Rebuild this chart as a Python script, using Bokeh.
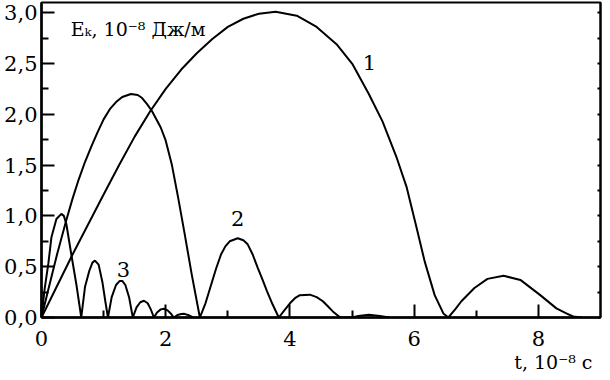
from bokeh.plotting import figure
from bokeh.models import FixedTicker, LinearAxis, Range1d, CustomJSTickFormatter, Label, Title
from bokeh.embed import file_html
from bokeh.resources import INLINE

# Curve 1
t1 = [0, 0.5, 1.0, 1.25, 1.5, 1.75, 2.0, 2.25, 2.5, 2.75, 3.0, 3.25, 3.5, 3.77, 4.11, 4.43,
      4.75, 5.01, 5.27, 5.49, 5.72, 5.88, 6.04, 6.17, 6.33, 6.47, 6.55,
      6.66, 6.76, 6.97, 7.18, 7.44, 7.71, 8.03, 8.29, 8.45, 8.56, 8.7]
e1 = [0, 0.62, 1.21, 1.50, 1.78, 2.03, 2.25, 2.44, 2.60, 2.74, 2.86, 2.94, 2.99, 3.01, 2.97, 2.86,
      2.69, 2.49, 2.20, 1.93, 1.57, 1.28, 0.88, 0.55, 0.22, 0.04, 0.0,
      0.08, 0.16, 0.29, 0.38, 0.41, 0.37, 0.22, 0.09, 0.04, 0.01, 0.0]

# Curve 2
t2 = [0, 0.1, 0.25, 0.4, 0.5, 0.6, 0.7, 0.8, 0.9, 1.0, 1.1, 1.2, 1.3, 1.44, 1.55, 1.62, 1.7,
      1.78, 1.92, 2.0, 2.1, 2.2, 2.3, 2.42, 2.55,
      2.64, 2.73, 2.81, 2.89, 2.96, 3.03, 3.16, 3.25, 3.32, 3.40, 3.48, 3.56, 3.63, 3.72, 3.82,
      3.91, 4.0, 4.08, 4.16, 4.32, 4.43, 4.53, 4.61, 4.69, 4.81,
      5.0, 5.1, 5.27, 5.45, 5.6]
e2 = [0, 0.25, 0.62, 0.96, 1.17, 1.36, 1.53, 1.68, 1.82, 1.95, 2.05, 2.12, 2.17, 2.20, 2.19, 2.16, 2.10,
      2.03, 1.87, 1.74, 1.50, 1.18, 0.84, 0.42, 0.0,
      0.14, 0.32, 0.48, 0.62, 0.70, 0.75, 0.78, 0.76, 0.72, 0.62, 0.49, 0.37, 0.26, 0.13, 0.0,
      0.07, 0.14, 0.19, 0.22, 0.225, 0.20, 0.16, 0.11, 0.06, 0.0,
      0.0, 0.015, 0.028, 0.015, 0.0]

# Curve 3
t3 = [0, 0.05, 0.11, 0.16, 0.24, 0.32, 0.36, 0.40, 0.48, 0.56, 0.64,
      0.70, 0.77, 0.82, 0.86, 0.92, 0.98, 1.03, 1.07,
      1.13, 1.20, 1.26, 1.30, 1.35, 1.41, 1.47,
      1.53, 1.59, 1.65, 1.71, 1.76, 1.81,
      1.86, 1.92, 1.97, 2.03, 2.08, 2.13,
      2.19, 2.25, 2.30, 2.36, 2.44]
e3 = [0, 0.28, 0.53, 0.79, 0.97, 1.02, 1.0, 0.92, 0.62, 0.33, 0.0,
      0.30, 0.46, 0.54, 0.56, 0.52, 0.35, 0.15, 0.0,
      0.2, 0.32, 0.36, 0.36, 0.32, 0.2, 0.0,
      0.1, 0.15, 0.165, 0.14, 0.08, 0.0,
      0.05, 0.08, 0.086, 0.07, 0.04, 0.0,
      0.025, 0.035, 0.036, 0.025, 0.0]

x_ticks = [0, 2, 4, 6, 8]
x_minor = [1, 3, 5, 7]
y_ticks = [0.0, 0.5, 1.0, 1.5, 2.0, 2.5, 3.0]
y_minor = [0.25, 0.75, 1.25, 1.75, 2.25, 2.75]
right_ticks = [0.25 * i for i in range(13)]

curve_labels = ["1", "2", "3"]
label_t = [5.28, 3.16, 1.32]
label_e = [2.51, 0.97, 0.47]

FONT = "DejaVu Serif"

p = figure(width=602, height=372, output_backend="svg", toolbar_location=None,
           x_range=Range1d(0, 9), y_range=Range1d(0, 3.1),
           min_border_left=41, min_border_right=2, min_border_top=2, min_border_bottom=0)
p.grid.visible = False
p.outline_line_color = "black"
p.outline_line_width = 2
p.background_fill_color = "white"
p.border_fill_color = "white"

for ax in (p.xaxis[0], p.yaxis[0]):
    ax.axis_line_width = 2.5
    ax.axis_line_color = "black"
    ax.major_tick_in = 13
    ax.major_tick_out = 0
    ax.minor_tick_in = 7
    ax.minor_tick_out = 0
    ax.major_tick_line_width = 2
    ax.minor_tick_line_width = 2
    ax.major_label_text_font = FONT
    ax.major_label_text_font_size = "21px"
    ax.major_label_text_color = "black"

p.xaxis[0].ticker = FixedTicker(ticks=x_ticks, minor_ticks=x_minor)
p.yaxis[0].ticker = FixedTicker(ticks=y_ticks, minor_ticks=y_minor)
p.yaxis[0].formatter = CustomJSTickFormatter(code="return tick.toFixed(1).replace('.', ',');")
p.yaxis[0].major_label_standoff = 4
p.xaxis[0].major_label_standoff = 13

ra = LinearAxis(ticker=FixedTicker(ticks=right_ticks, minor_ticks=[]))
ra.major_tick_in = 3
ra.major_tick_out = 0
ra.minor_tick_in = 0
ra.minor_tick_out = 0
ra.major_tick_line_width = 2
ra.axis_line_width = 2
ra.major_label_text_font_size = "0px"
ra.major_label_standoff = 0
p.add_layout(ra, "right")

for t, e in ((t1, e1), (t2, e2), (t3, e3)):
    p.line(t, e, line_color="black", line_width=2)

for txt, lt, le in zip(curve_labels, label_t, label_e):
    p.add_layout(Label(x=lt, y=le, text=txt, text_font=FONT, text_font_size="21px",
                       text_align="center", text_baseline="middle", text_color="black"))

p.add_layout(Label(x=0.47, y=2.84, text="Eₖ, 10⁻⁸ Дж/м", text_font=FONT,
                   text_font_size="19px", text_align="left", text_baseline="alphabetic",
                   text_color="black"))

xt = Title(text="t, 10⁻⁸ с", align="right", text_font=FONT, text_font_size="19px",
           text_font_style="normal", text_color="black", offset=8, standoff=0)
p.add_layout(xt, "below")

open("out.html", "w").write(file_html(p, INLINE))
